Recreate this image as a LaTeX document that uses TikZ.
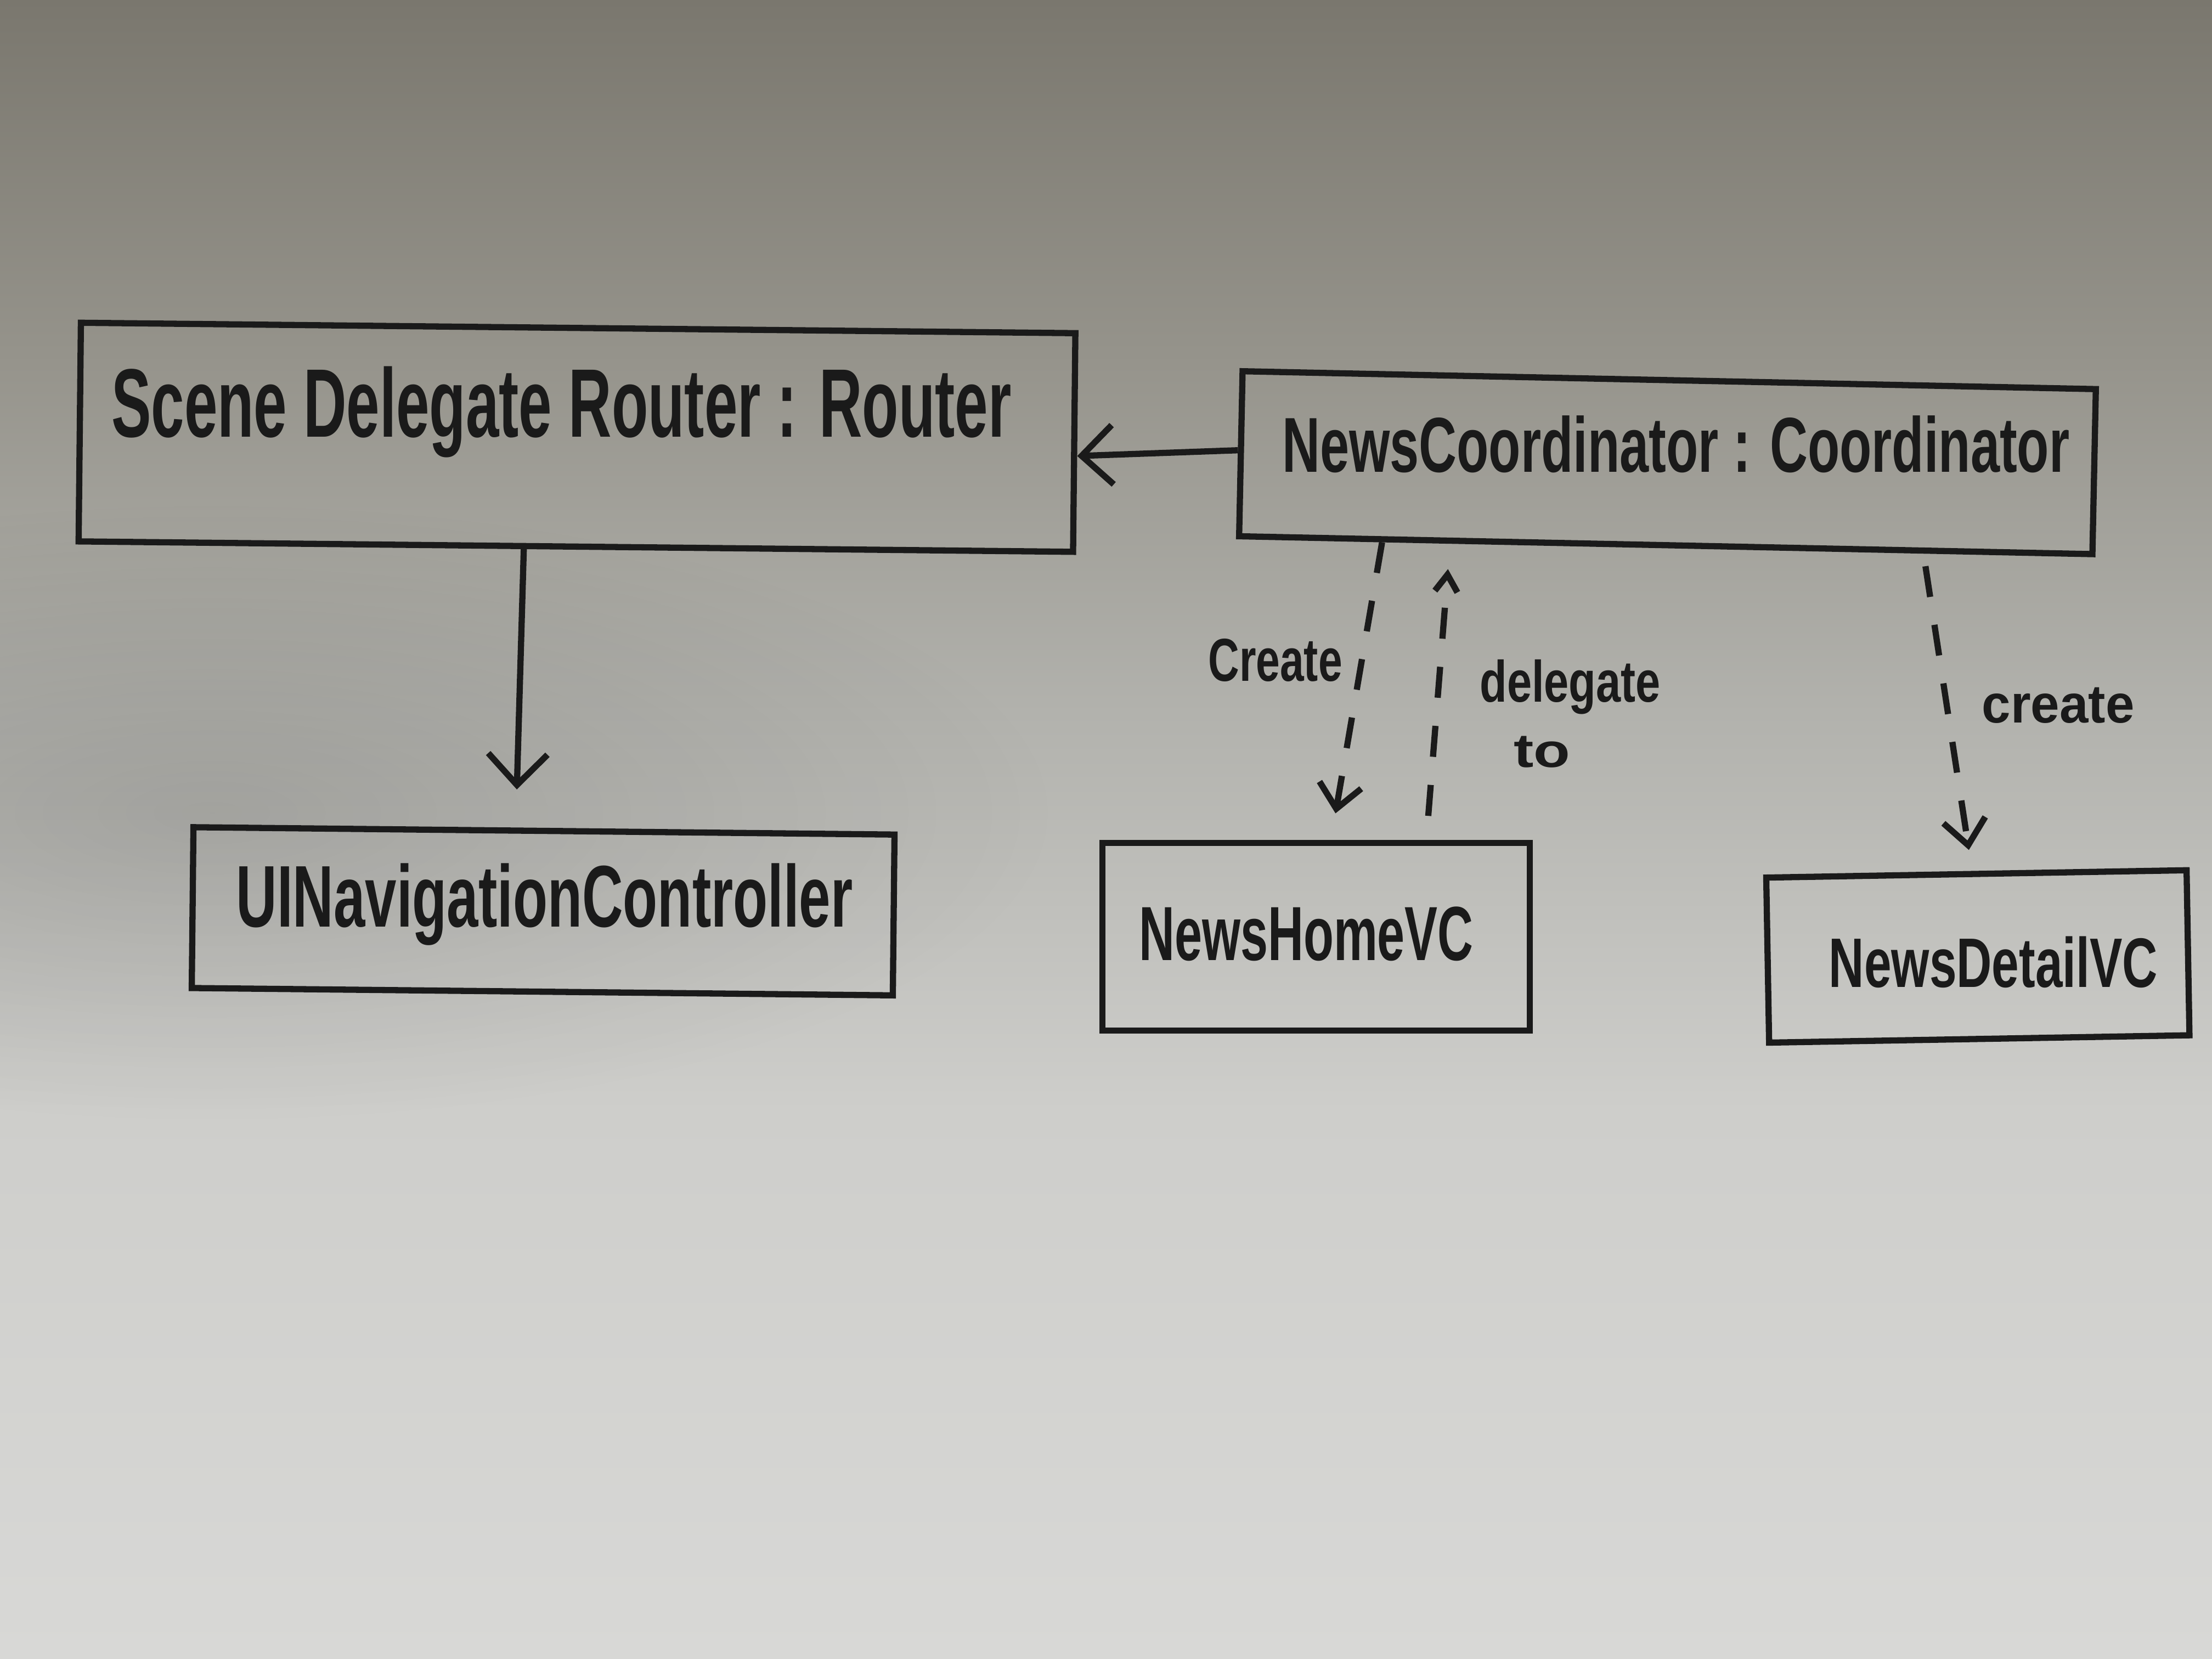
\documentclass[tikz,border=0pt]{standalone}
\usepackage{fontspec}
\setsansfont{Liberation Sans}
\usetikzlibrary{arrows.meta,calc,fadings}
\definecolor{ink}{RGB}{26,26,26}
\definecolor{bgA}{RGB}{216,216,214}
\definecolor{bgB}{RGB}{206,206,203}
\definecolor{bgC}{RGB}{178,178,173}
\definecolor{bgD}{RGB}{150,148,140}
\definecolor{bgE}{RGB}{122,119,110}
\pgfdeclareverticalshading{paper}{100bp}{color(0bp)=(bgA); color(25bp)=(bgA); color(41.5bp)=(bgB); color(53.5bp)=(bgC); color(64bp)=(bgD); color(75bp)=(bgE); color(100bp)=(bgE)}
\tikzfading[name=spot, inner color=transparent!88, outer color=transparent!100]
\newcommand{\hw}[3]{\resizebox{#1}{#2}{\sffamily\bfseries #3}}
\tikzset{
  box/.style={draw=ink, line width=1.25pt, rectangle, inner sep=0pt},
  txt/.style={inner sep=0pt, text=ink},
  solidarr/.style={draw=ink, line width=1.25pt, -{Straight Barb[length=0.22cm, width=0.42cm, line width=1.25pt]}},
  dasharr/.style={draw=ink, line width=1.25pt, dash pattern=on 0.22cm off 0.2cm}
}
\begin{document}
\begin{tikzpicture}
\useasboundingbox (0,0) rectangle (15.68,11.76);
\shade[shading=paper] (0,0) rectangle (15.68,11.76);
\fill[black, path fading=spot] (1.5,6.0) ellipse (6cm and 2.2cm);

% boxes
\node[box, minimum width=7.05cm, minimum height=1.55cm, rotate=-0.6] (router) at (4.09,8.66) {};
\node[box, minimum width=6.05cm, minimum height=1.17cm, rotate=-1.2] (coord) at (11.82,8.48) {};
\node[box, minimum width=4.97cm, minimum height=1.14cm, rotate=-0.6] (uinav) at (3.85,5.30) {};
\node[box, minimum width=3.03cm, minimum height=1.33cm] (home) at (9.33,5.12) {};
\node[box, minimum width=2.98cm, minimum height=1.17cm, rotate=1] (detail) at (14.02,4.98) {};

% box texts
\node[txt] (rtext) at (3.98,8.84) {\hw{6.38cm}{0.5cm}{Scene Delegate Router : Router}};
\node[txt] (ctext) at (11.88,8.61) {\hw{5.58cm}{0.4cm}{NewsCoordinator : Coordinator}};
\node[txt] (utext) at (3.86,5.35) {\hw{4.37cm}{0.45cm}{UINavigationController}};
\node[txt] (htext) at (9.26,5.14) {\hw{2.37cm}{0.38cm}{NewsHomeVC}};
\node[txt] (dtext) at (14.13,4.94) {\hw{2.33cm}{0.36cm}{NewsDetailVC}};

% labels
\node[txt] (lcreate) at (9.04,7.08) {\hw{0.95cm}{0.3cm}{Create}};
\node[txt] (ldeleg) at (11.13,6.89) {\hw{1.28cm}{0.3cm}{delegate}};
\node[txt] (lto) at (10.93,6.43) {\hw{0.4cm}{0.22cm}{to}};
\node[txt] (lcreate2) at (14.59,6.76) {\hw{1.08cm}{0.25cm}{create}};

% connectors
\draw[solidarr, shorten >=0.27cm] ($(router.south west)!0.448!(router.south east)$) -- ($(uinav.north west)!0.46!(uinav.north east)$);
\draw[solidarr] ($(coord.north west)!0.48!(coord.south west)$) -- ($(router.north east)!0.56!(router.south east)$);
\draw[dasharr, -{Straight Barb[length=0.17cm, width=0.3cm, line width=1.25pt]}, shorten >=0.19cm] ($(coord.south west)!0.17!(coord.south east)$) -- ($(home.north west)!0.534!(home.north east)$);
\draw[dasharr, -{Straight Barb[length=0.12cm, width=0.16cm, line width=1.25pt]}, shorten <=0.17cm, shorten >=0.18cm] ($(home.north west)!0.754!(home.north east)$) -- ($(coord.south west)!0.249!(coord.south east)$);
\draw[dasharr, -{Straight Barb[length=0.18cm, width=0.3cm, line width=1.25pt]}, shorten <=0.09cm, shorten >=0.15cm] ($(coord.south west)!0.80!(coord.south east)$) -- ($(detail.north west)!0.49!(detail.north east)$);
\end{tikzpicture}
\end{document}
